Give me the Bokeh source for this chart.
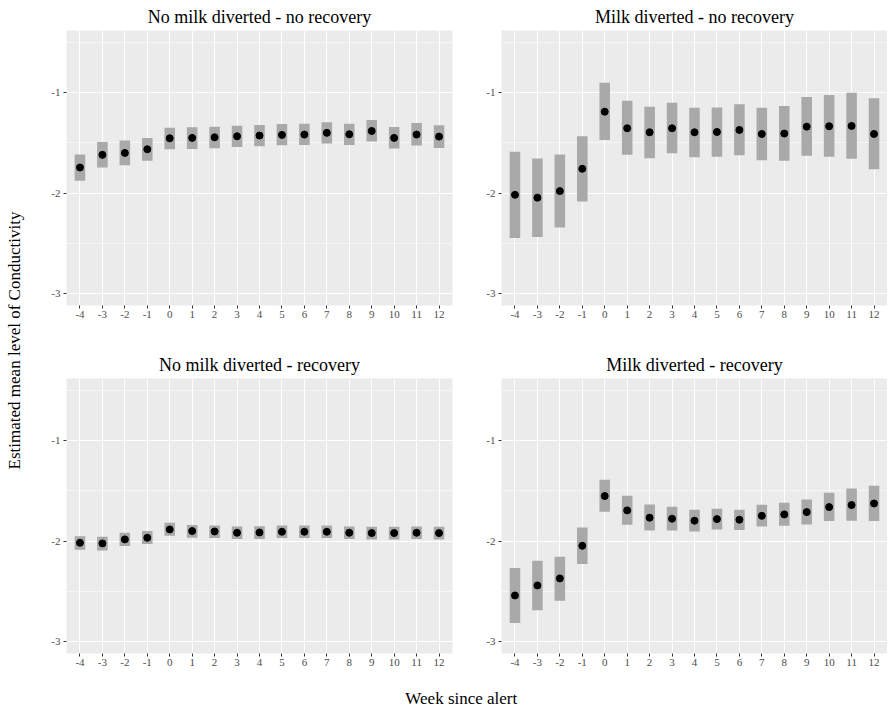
import numpy as np
from bokeh.plotting import figure
from bokeh.layouts import row, column
from bokeh.models import Range1d, FixedTicker
from bokeh.core.properties import value
from bokeh.embed import file_html
from bokeh.resources import INLINE

weeks = list(range(-4, 13))

panel_titles = ["No milk diverted - no recovery", "Milk diverted - no recovery",
                "No milk diverted - recovery", "Milk diverted - recovery"]

# No milk diverted - no recovery
est_nd_nr = [-1.745, -1.619, -1.600, -1.563, -1.454, -1.450, -1.444, -1.434, -1.427,
             -1.420, -1.417, -1.400, -1.414, -1.381, -1.450, -1.417, -1.437]
lo_nd_nr = [-1.877, -1.745, -1.722, -1.679, -1.563, -1.560, -1.553, -1.540, -1.533,
            -1.523, -1.520, -1.507, -1.520, -1.487, -1.556, -1.526, -1.550]
hi_nd_nr = [-1.616, -1.490, -1.477, -1.450, -1.348, -1.344, -1.338, -1.328, -1.321,
            -1.311, -1.308, -1.295, -1.308, -1.272, -1.341, -1.301, -1.325]

# Milk diverted - no recovery
est_d_nr = [-2.017, -2.046, -1.980, -1.758, -1.189, -1.354, -1.394, -1.354, -1.394,
            -1.391, -1.371, -1.411, -1.407, -1.338, -1.334, -1.331, -1.411]
lo_d_nr = [-2.447, -2.437, -2.344, -2.083, -1.470, -1.619, -1.652, -1.603, -1.642,
           -1.639, -1.623, -1.672, -1.679, -1.629, -1.639, -1.659, -1.762]
hi_d_nr = [-1.589, -1.656, -1.616, -1.434, -0.900, -1.079, -1.139, -1.099, -1.149,
           -1.146, -1.116, -1.149, -1.132, -1.043, -1.023, -1.000, -1.056]

# No milk diverted - recovery
est_nd_r = [-2.017, -2.023, -1.983, -1.967, -1.884, -1.900, -1.904, -1.917, -1.914,
            -1.907, -1.907, -1.907, -1.917, -1.920, -1.920, -1.917, -1.920]
lo_nd_r = [-2.086, -2.093, -2.050, -2.030, -1.947, -1.967, -1.970, -1.980, -1.978,
           -1.970, -1.970, -1.970, -1.980, -1.984, -1.984, -1.980, -1.984]
hi_nd_r = [-1.953, -1.957, -1.917, -1.900, -1.817, -1.840, -1.844, -1.854, -1.851,
           -1.844, -1.844, -1.844, -1.854, -1.857, -1.857, -1.854, -1.857]

# Milk diverted - recovery
est_d_r = [-2.542, -2.442, -2.372, -2.047, -1.551, -1.694, -1.767, -1.777, -1.797,
           -1.781, -1.787, -1.748, -1.734, -1.711, -1.661, -1.641, -1.625]
lo_d_r = [-2.817, -2.688, -2.595, -2.229, -1.708, -1.837, -1.894, -1.894, -1.904,
          -1.884, -1.890, -1.854, -1.847, -1.834, -1.801, -1.797, -1.801]
hi_d_r = [-2.269, -2.196, -2.156, -1.864, -1.389, -1.548, -1.635, -1.658, -1.688,
          -1.678, -1.688, -1.638, -1.618, -1.585, -1.518, -1.475, -1.449]

y_ticks = [-3, -2, -1]
y_minor = [-2.5, -1.5, -0.5]

FONT = "Liberation Serif"


def make_panel(title, est, lo, hi, border_right, border_bottom):
    p = figure(frame_width=386, frame_height=275,
               min_border_left=40, min_border_right=border_right,
               min_border_top=29, min_border_bottom=border_bottom,
               x_range=Range1d(-4.6, 12.6), y_range=Range1d(-3.12, -0.38),
               toolbar_location=None, output_backend="svg",
               background_fill_color="#ebebeb", border_fill_color="white",
               outline_line_color=None)
    p.title.text = title
    p.title.align = "center"
    p.title.text_font = FONT
    p.title.text_font_size = "18px"
    p.title.text_font_style = "normal"
    p.title.text_color = "black"
    p.title.standoff = 8

    p.vbar(x=weeks, top=hi, bottom=lo, width=0.47, fill_color="#a9a9a9", line_color=None)
    p.scatter(x=weeks, y=est, size=7, fill_color="black", line_color="black")

    p.xaxis.ticker = FixedTicker(ticks=weeks)
    p.yaxis.ticker = FixedTicker(ticks=y_ticks, minor_ticks=y_minor)
    p.xaxis.major_label_overrides = {w: str(w) for w in weeks}
    p.yaxis.major_label_overrides = {t: str(t) for t in y_ticks}
    for ax in (p.xaxis[0], p.yaxis[0]):
        ax.axis_line_color = None
        ax.major_tick_in = 0
        ax.major_tick_out = 3
        ax.major_tick_line_color = "#333333"
        ax.minor_tick_line_color = None
        ax.major_label_text_font = FONT
        ax.major_label_text_font_size = "11px"
        ax.major_label_text_color = "#4d4d4d"
        ax.major_label_standoff = 2

    p.xgrid.grid_line_color = "white"
    p.xgrid.grid_line_width = 1.1
    p.ygrid.grid_line_color = "white"
    p.ygrid.grid_line_width = 1.1
    p.ygrid.minor_grid_line_color = "white"
    p.ygrid.minor_grid_line_width = 0.55
    return p


p1 = make_panel(panel_titles[0], est_nd_nr, lo_nd_nr, hi_nd_nr, 9, 43)
p2 = make_panel(panel_titles[1], est_d_nr, lo_d_nr, hi_d_nr, 0, 43)
p3 = make_panel(panel_titles[2], est_nd_r, lo_nd_r, hi_nd_r, 9, 25)
p4 = make_panel(panel_titles[3], est_d_r, lo_d_r, hi_d_r, 0, 25)

ylab = figure(width=26, height=680, x_range=Range1d(0, 1), y_range=Range1d(0, 1),
              min_border=0, toolbar_location=None, output_backend="svg",
              x_axis_location=None, y_axis_location=None, outline_line_color=None)
ylab.grid.visible = False
ylab.text(x=[0.55], y=[0.5], text=["Estimated mean level of Conductivity"], angle=np.pi / 2,
          text_align="center", text_baseline="middle", text_font=value(FONT),
          text_font_size="17px", text_color="black")

xlab = figure(width=861, height=32, x_range=Range1d(0, 1), y_range=Range1d(0, 1),
              min_border=0, toolbar_location=None, output_backend="svg",
              x_axis_location=None, y_axis_location=None, outline_line_color=None)
xlab.grid.visible = False
xlab.text(x=[0.505], y=[0.36], text=["Week since alert"],
          text_align="center", text_baseline="middle", text_font=value(FONT),
          text_font_size="17px", text_color="black")

layout = row(ylab, column(row(p1, p2), row(p3, p4), xlab))

open("out.html", "w").write(file_html(layout, INLINE))
